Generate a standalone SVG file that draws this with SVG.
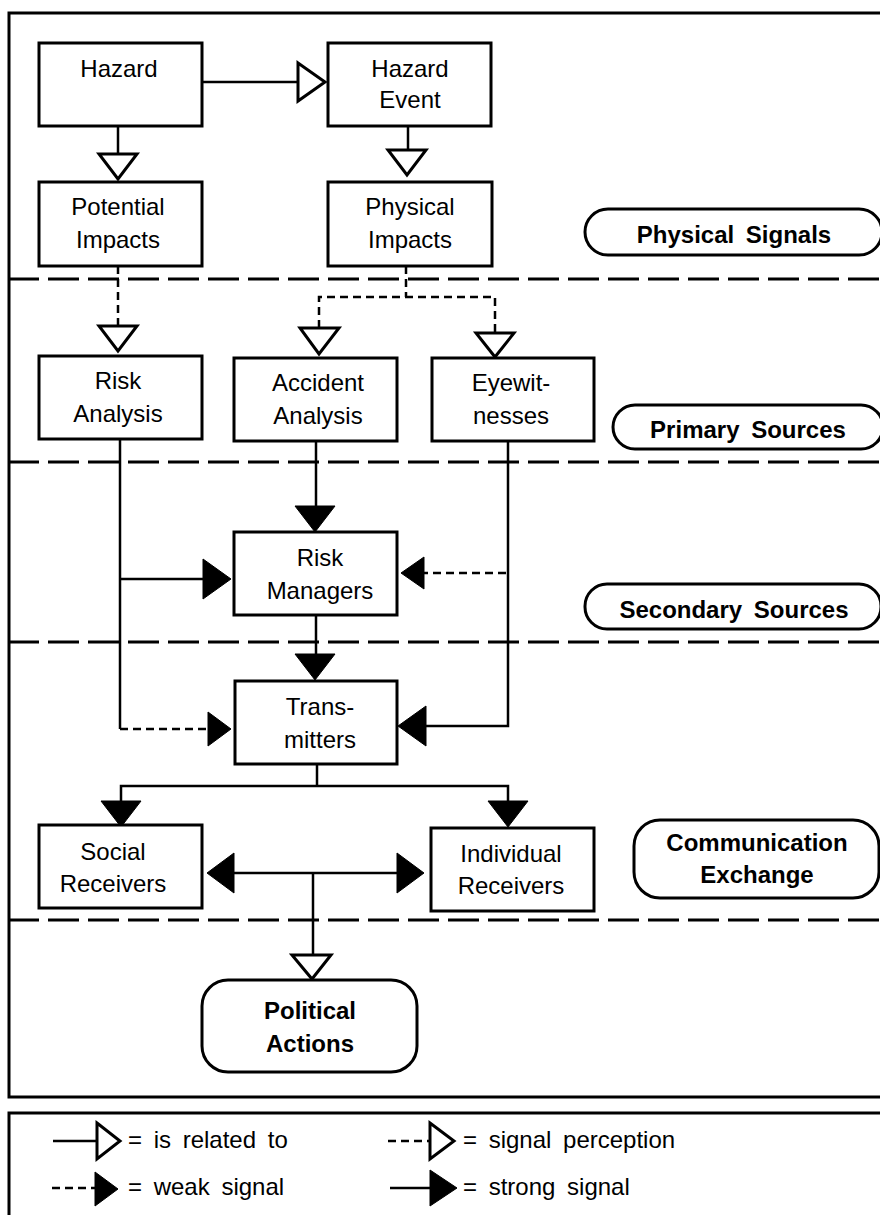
<svg xmlns="http://www.w3.org/2000/svg" width="880" height="1215" viewBox="0 0 880 1215">
  <style>
    .frame { fill: none; stroke: #000; stroke-width: 3; }
    .box { fill: #fff; stroke: #000; stroke-width: 3; }
    .pill { fill: #fff; stroke: #000; stroke-width: 3; }
    .zone { fill: none; stroke: #000; stroke-width: 3; stroke-dasharray: 31 9; stroke-dashoffset: 1; }
    .solid { fill: none; stroke: #000; stroke-width: 2.5; }
    .dotted { fill: none; stroke: #000; stroke-width: 2.5; stroke-dasharray: 8 5; }
    .open { fill: #fff; stroke: #000; stroke-width: 3; stroke-linejoin: miter; }
    .filled { fill: #000; stroke: #000; stroke-width: 1; }
    text { font-family: "Liberation Sans", Arial, sans-serif; font-size: 24px; fill: #000; word-spacing: 5px; }
    .lbl { text-anchor: middle; }
    .bold { font-weight: bold; text-anchor: middle; }
  </style>

  <!-- outer frame and zone separators -->
  <g id="frame">
    <rect class="frame" x="9" y="13" width="885" height="1084"/>
    <line class="zone" x1="9" y1="279" x2="884" y2="279"/>
    <line class="zone" x1="9" y1="462" x2="884" y2="462"/>
    <line class="zone" x1="9" y1="642" x2="884" y2="642"/>
    <line class="zone" x1="9" y1="920" x2="884" y2="920"/>
  </g>

  <!-- connectors -->
  <g id="connectors">
    <!-- Hazard -> Hazard Event -->
    <line class="solid" x1="202" y1="82" x2="298" y2="82"/>
    <polygon class="open" points="298,63 325,82 298,101"/>
    <!-- Hazard -> Potential Impacts -->
    <line class="solid" x1="118" y1="126" x2="118" y2="154"/>
    <polygon class="open" points="99,154 137,154 118,179"/>
    <!-- Hazard Event -> Physical Impacts -->
    <line class="solid" x1="408" y1="126" x2="408" y2="150"/>
    <polygon class="open" points="388,150 426,150 407,175"/>

    <!-- Potential Impacts -> Risk Analysis -->
    <line class="dotted" x1="118" y1="266" x2="118" y2="326"/>
    <polygon class="open" points="99,326 137,326 118,351"/>
    <!-- Physical Impacts -> Accident Analysis / Eyewitnesses -->
    <polyline class="dotted" points="406,266 406,297"/>
    <polyline class="dotted" points="319,328 319,297 495,297 495,333"/>
    <polygon class="open" points="300,328 339,328 319,354"/>
    <polygon class="open" points="476,333 514,333 495,357"/>

    <!-- Risk Analysis trunk -->
    <line class="solid" x1="120" y1="439" x2="120" y2="729"/>
    <line class="solid" x1="120" y1="579" x2="204" y2="579"/>
    <polygon class="filled" points="203,559 231,579 203,599"/>
    <line class="dotted" x1="120" y1="729" x2="209" y2="729"/>
    <polygon class="filled" points="208,712 231,729 208,746"/>

    <!-- Accident Analysis -> Risk Managers -->
    <line class="solid" x1="316" y1="441" x2="316" y2="507"/>
    <polygon class="filled" points="295,506 335,506 315,532"/>

    <!-- Eyewitnesses trunk -->
    <polyline class="solid" points="508,441 508,726 425,726"/>
    <polygon class="filled" points="426,706 398,726 426,746"/>
    <line class="dotted" x1="506" y1="573" x2="423" y2="573"/>
    <polygon class="filled" points="424,557 401,573 424,589"/>

    <!-- Risk Managers -> Transmitters -->
    <line class="solid" x1="316" y1="615" x2="316" y2="655"/>
    <polygon class="filled" points="295,654 335,654 315,680"/>

    <!-- Transmitters -> receivers -->
    <line class="solid" x1="317" y1="764" x2="317" y2="786"/>
    <polyline class="solid" points="121,802 121,786 508,786 508,802"/>
    <polygon class="filled" points="101,801 141,801 121,827"/>
    <polygon class="filled" points="488,801 528,801 508,827"/>

    <!-- Social <-> Individual exchange -->
    <line class="solid" x1="233" y1="873" x2="398" y2="873"/>
    <polygon class="filled" points="234,853 207,873 234,893"/>
    <polygon class="filled" points="397,853 424,873 397,893"/>

    <!-- exchange -> Political Actions -->
    <line class="solid" x1="313" y1="873" x2="313" y2="955"/>
    <polygon class="open" points="292,955 331,955 312,979"/>
  </g>

  <!-- nodes -->
  <g id="hazard">
    <rect class="box" x="39" y="43" width="163" height="83"/>
    <text class="lbl" x="119" y="77">Hazard</text>
  </g>
  <g id="hazard-event">
    <rect class="box" x="328" y="43" width="163" height="83"/>
    <text class="lbl" x="410" y="77">Hazard</text>
    <text class="lbl" x="410" y="108">Event</text>
  </g>
  <g id="potential-impacts">
    <rect class="box" x="39" y="182" width="163" height="84"/>
    <text class="lbl" x="118" y="215">Potential</text>
    <text class="lbl" x="118" y="248">Impacts</text>
  </g>
  <g id="physical-impacts">
    <rect class="box" x="328" y="182" width="164" height="84"/>
    <text class="lbl" x="410" y="215">Physical</text>
    <text class="lbl" x="410" y="248">Impacts</text>
  </g>
  <g id="physical-signals">
    <rect class="pill" x="585" y="209" width="297" height="46" rx="23" ry="23"/>
    <text class="bold" x="734" y="243">Physical Signals</text>
  </g>

  <g id="risk-analysis">
    <rect class="box" x="39" y="356" width="163" height="83"/>
    <text class="lbl" x="118" y="389">Risk</text>
    <text class="lbl" x="118" y="422">Analysis</text>
  </g>
  <g id="accident-analysis">
    <rect class="box" x="234" y="358" width="163" height="83"/>
    <text class="lbl" x="318" y="391">Accident</text>
    <text class="lbl" x="318" y="424">Analysis</text>
  </g>
  <g id="eyewitnesses">
    <rect class="box" x="432" y="358" width="162" height="83"/>
    <text class="lbl" x="511" y="391">Eyewit-</text>
    <text class="lbl" x="511" y="424">nesses</text>
  </g>
  <g id="primary-sources">
    <rect class="pill" x="613" y="405" width="270" height="44" rx="22" ry="22"/>
    <text class="bold" x="748" y="438">Primary Sources</text>
  </g>

  <g id="risk-managers">
    <rect class="box" x="234" y="532" width="163" height="83"/>
    <text class="lbl" x="320" y="566">Risk</text>
    <text class="lbl" x="320" y="599">Managers</text>
  </g>
  <g id="secondary-sources">
    <rect class="pill" x="585" y="584" width="296" height="45" rx="22" ry="22"/>
    <text class="bold" x="734" y="618">Secondary Sources</text>
  </g>

  <g id="transmitters">
    <rect class="box" x="235" y="681" width="162" height="83"/>
    <text class="lbl" x="320" y="715">Trans-</text>
    <text class="lbl" x="320" y="748">mitters</text>
  </g>

  <g id="social-receivers">
    <rect class="box" x="39" y="825" width="163" height="83"/>
    <text class="lbl" x="113" y="860">Social</text>
    <text class="lbl" x="113" y="892">Receivers</text>
  </g>
  <g id="individual-receivers">
    <rect class="box" x="431" y="828" width="163" height="83"/>
    <text class="lbl" x="511" y="862">Individual</text>
    <text class="lbl" x="511" y="894">Receivers</text>
  </g>
  <g id="communication-exchange">
    <rect class="pill" x="634" y="820" width="245" height="78" rx="26" ry="26"/>
    <text class="bold" x="757" y="851">Communication</text>
    <text class="bold" x="757" y="883">Exchange</text>
  </g>

  <g id="political-actions">
    <rect class="pill" x="202" y="980" width="215" height="92" rx="26" ry="26"/>
    <text class="bold" x="310" y="1019">Political</text>
    <text class="bold" x="310" y="1052">Actions</text>
  </g>

  <!-- legend -->
  <g id="legend">
    <rect class="frame" x="9" y="1113" width="885" height="120"/>
    <line class="solid" x1="53" y1="1141" x2="97" y2="1141"/>
    <polygon class="open" points="97,1123 120,1141 97,1159"/>
    <text x="128" y="1148">= is related to</text>

    <line class="dotted" x1="388" y1="1141" x2="430" y2="1141"/>
    <polygon class="open" points="430,1123 454,1141 430,1159"/>
    <text x="463" y="1148">= signal perception</text>

    <line class="dotted" x1="52" y1="1188" x2="96" y2="1188"/>
    <polygon class="filled" points="95,1172 118,1189 95,1206"/>
    <text x="128" y="1195">= weak signal</text>

    <line class="solid" x1="390" y1="1188" x2="431" y2="1188"/>
    <polygon class="filled" points="430,1170 457,1188 430,1206"/>
    <text x="463" y="1195">= strong signal</text>
  </g>
</svg>
